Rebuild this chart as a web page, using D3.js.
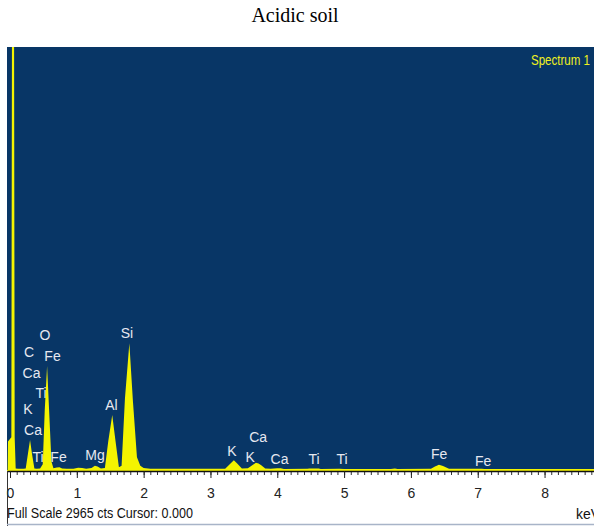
<!DOCTYPE html>
<html>
<head>
<meta charset="utf-8">
<script src="https://cdn.jsdelivr.net/npm/d3@7"></script>
<style>
  body { margin: 0; background: #fff; }
  svg { display: block; }
  .narrow { font-family: "Liberation Sans Narrow", "Liberation Sans", Arial, sans-serif; font-stretch: condensed; }
</style>
</head>
<body>
<svg id="chart" width="594" height="526"></svg>
<script>
// spectrum (keV, counts)
const energy = [-0.045, -0.035, -0.03, 0.02, 0.03, 0.06, 0.07, 0.085, 0.12, 0.2,
  0.235, 0.27, 0.30, 0.33, 0.365, 0.40, 0.45, 0.49, 0.52, 0.555, 0.585, 0.62, 0.65,
  0.70, 0.74, 0.78, 0.85, 0.95, 1.02, 1.08, 1.14, 1.22, 1.27, 1.31, 1.36, 1.42,
  1.47, 1.53, 1.58, 1.63, 1.67, 1.72, 1.786, 1.84, 1.90, 1.95, 2.0, 2.1, 2.4,
  2.7, 3.0, 3.22, 3.30, 3.35, 3.40, 3.47, 3.56, 3.62, 3.68, 3.72, 3.76, 3.82,
  3.9, 4.0, 4.05, 4.1, 4.45, 4.48, 4.62, 4.65, 4.93, 5.0, 5.7, 5.76, 5.8, 6.30,
  6.36, 6.42, 6.48, 6.57, 7.06, 7.1, 8.0, 8.74];
const counts = [0, 0, 200, 230, 3300, 3300, 230, 10, 8, 8,
  10, 120, 210, 110, 10, 8, 10, 40, 420, 729, 420, 60, 12,
  18, 20, 10, 8, 9, 16, 14, 8, 14, 30, 24, 10, 14,
  200, 386, 200, 20, 30, 500, 888, 480, 90, 30, 14, 9, 8,
  8, 8, 8, 45, 68, 45, 10, 12, 32, 50, 46, 34, 10,
  8, 12, 12, 7, 8, 10, 10, 7, 8, 7, 7, 10, 7, 8,
  25, 36, 28, 8, 9, 7, 7, 7];

// element labels (text, keV, counts at baseline)
const labelText = ["O", "C", "Fe", "Ca", "Ti", "K", "Ca", "Ti", "Fe", "Mg", "Al", "Si",
  "K", "Ca", "K", "Ca", "Ti", "Ti", "Fe", "Fe"];
const labelKeV = [0.524, 0.284, 0.636, 0.322, 0.464, 0.269, 0.344, 0.419, 0.726, 1.272,
  1.519, 1.751, 3.323, 3.713, 3.593, 4.034, 4.551, 4.97, 6.422, 7.081];
const labelCts = [911, 792, 764, 645, 505, 393, 245, 56, 56, 70,
  421, 925, 98, 196, 56, 42, 42, 42, 77, 28];

const majorTicks = [0, 1, 2, 3, 4, 5, 6, 7, 8];
const fullScale = 2965;

const svg = d3.select("#chart");

const x = d3.scaleLinear().domain([-0.045, 8.74]).range([7, 594]);
const y = d3.scaleLinear().domain([0, fullScale]).range([470, 47]);

// title
svg.append("text")
  .attr("x", 295).attr("y", 22)
  .attr("text-anchor", "middle")
  .attr("font-family", "'Liberation Serif', 'Times New Roman', serif")
  .attr("font-size", 20)
  .text("Acidic soil");

// plot background
svg.append("rect")
  .attr("x", 7).attr("y", 47)
  .attr("width", 587).attr("height", 424)
  .attr("fill", "#083666");

svg.append("clipPath").attr("id", "plotclip")
  .append("rect").attr("x", 7).attr("y", 47).attr("width", 587).attr("height", 424);

// labels go under the spectrum
svg.append("g").attr("class", "narrow")
  .selectAll("text")
  .data(labelText)
  .join("text")
  .attr("x", (d, i) => x(labelKeV[i]))
  .attr("y", (d, i) => y(labelCts[i]))
  .attr("text-anchor", "middle")
  .attr("font-size", 14)
  .attr("fill", "#e6e8f0")
  .text(d => d);

const pts = energy.map((e, i) => [e, counts[i]]);
const area = d3.area()
  .x(d => x(d[0]))
  .y0(y(0) + 1)
  .y1(d => y(d[1]));

svg.append("path")
  .datum(pts)
  .attr("clip-path", "url(#plotclip)")
  .attr("d", area)
  .attr("fill", "#f4f400");

svg.append("text").attr("class", "narrow")
  .attr("x", 590).attr("y", 65)
  .attr("text-anchor", "end")
  .attr("font-size", 14)
  .attr("textLength", 59)
  .attr("lengthAdjust", "spacingAndGlyphs")
  .attr("fill", "#f0f020")
  .text("Spectrum 1");

// lower white strip
svg.append("rect")
  .attr("x", 7).attr("y", 471)
  .attr("width", 587).attr("height", 53)
  .attr("fill", "#fff");

// axis
const minor = svg.append("g")
  .attr("transform", "translate(0,471)")
  .call(d3.axisBottom(x).tickValues(d3.range(0, 88).map(d => d / 10)).tickSize(4).tickFormat(""));
minor.select(".domain").remove();
minor.selectAll("line").attr("stroke", "#333");

const major = svg.append("g")
  .attr("class", "narrow")
  .attr("transform", "translate(0,471)")
  .call(d3.axisBottom(x).tickValues(majorTicks).tickSize(7).tickSizeOuter(0));
major.select(".domain").attr("stroke", "#111").attr("stroke-width", 1.5);
major.selectAll("line").attr("stroke", "#222");
major.selectAll("text")
  .attr("y", 17)
  .attr("font-size", 14)
  .attr("font-family", null)
  .attr("fill", "#222");

svg.append("text").attr("class", "narrow")
  .attr("x", 7).attr("y", 518)
  .attr("font-size", 14)
  .attr("textLength", 186)
  .attr("lengthAdjust", "spacingAndGlyphs")
  .attr("fill", "#111")
  .text("Full Scale " + fullScale + " cts Cursor: 0.000");

svg.append("text").attr("class", "narrow")
  .attr("x", 576).attr("y", 519)
  .attr("font-size", 14)
  .attr("fill", "#111")
  .text("keV");

// frame lines
svg.append("line")
  .attr("x1", 7.5).attr("x2", 7.5).attr("y1", 471).attr("y2", 526)
  .attr("stroke", "#333").attr("stroke-width", 1);
svg.append("line")
  .attr("x1", 7).attr("x2", 594).attr("y1", 524.5).attr("y2", 524.5)
  .attr("stroke", "#a8b4c8").attr("stroke-width", 1.5);
</script>
</body>
</html>
